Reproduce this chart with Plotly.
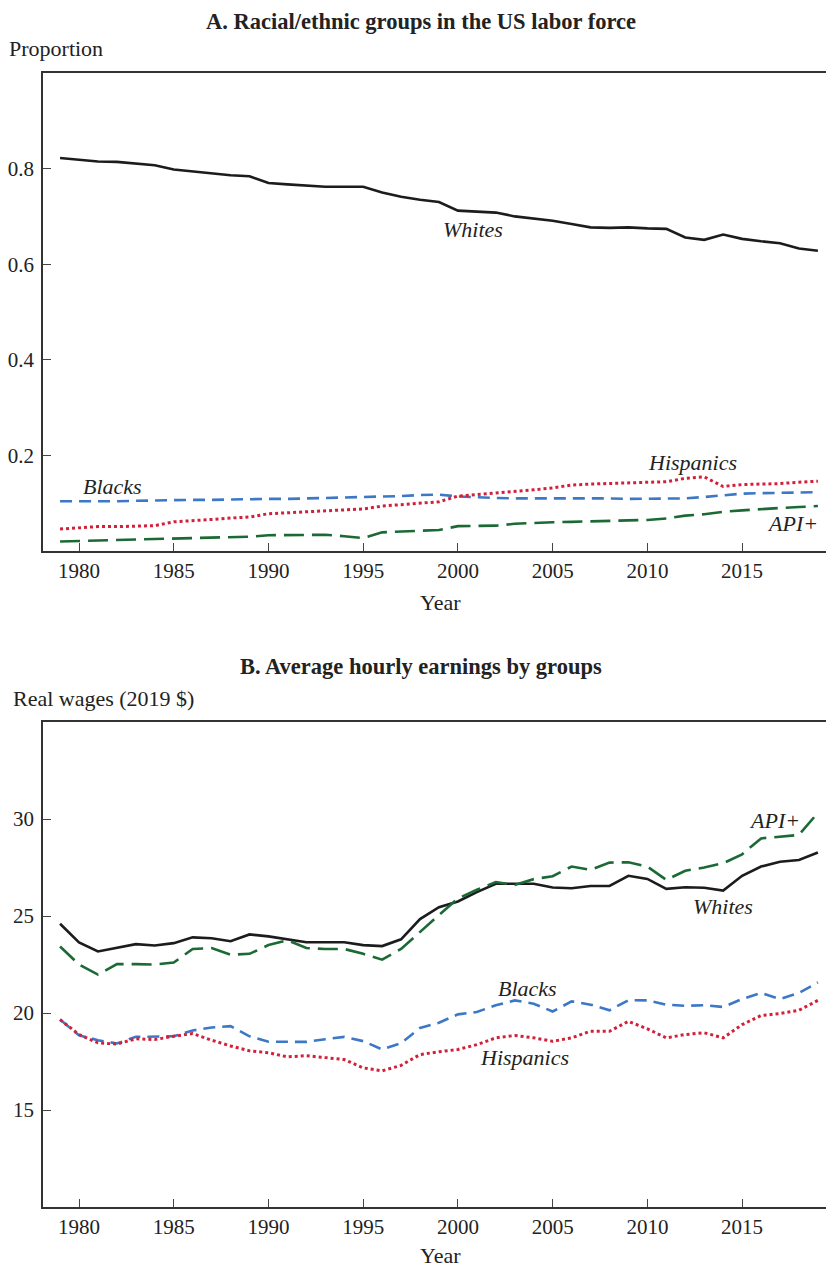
import plotly.graph_objects as go

years = list(range(1979, 2020))

# Panel A: share of labor force
share_whites = [0.822, 0.818, 0.815, 0.814, 0.811, 0.807, 0.798, 0.794, 0.789, 0.786,
                0.784, 0.770, 0.767, 0.764, 0.762, 0.762, 0.762, 0.750, 0.741, 0.735,
                0.730, 0.712, 0.710, 0.708, 0.700, 0.696, 0.691, 0.684, 0.677, 0.676,
                0.677, 0.675, 0.674, 0.656, 0.651, 0.662, 0.653, 0.648, 0.644, 0.633, 0.628]
share_blacks = [0.104, 0.104, 0.103, 0.104, 0.105, 0.106, 0.106, 0.107, 0.107, 0.108,
                0.108, 0.109, 0.109, 0.110, 0.110, 0.111, 0.112, 0.113, 0.115, 0.117,
                0.118, 0.114, 0.112, 0.111, 0.110, 0.110, 0.110, 0.110, 0.111, 0.110,
                0.109, 0.109, 0.109, 0.110, 0.113, 0.117, 0.120, 0.121, 0.122, 0.123, 0.123]
share_hispanics = [0.046, 0.049, 0.051, 0.051, 0.052, 0.053, 0.061, 0.063, 0.066, 0.069,
                   0.071, 0.078, 0.080, 0.082, 0.084, 0.086, 0.088, 0.094, 0.097, 0.101,
                   0.103, 0.115, 0.118, 0.122, 0.125, 0.128, 0.132, 0.138, 0.140, 0.141,
                   0.142, 0.143, 0.145, 0.152, 0.155, 0.135, 0.139, 0.140, 0.141, 0.144, 0.146]
share_api = [0.020, 0.021, 0.022, 0.023, 0.024, 0.024, 0.025, 0.027, 0.028, 0.029,
             0.030, 0.033, 0.033, 0.034, 0.034, 0.031, 0.027, 0.039, 0.041, 0.043,
             0.044, 0.052, 0.052, 0.053, 0.057, 0.059, 0.060, 0.061, 0.062, 0.064,
             0.064, 0.065, 0.068, 0.074, 0.077, 0.082, 0.085, 0.088, 0.090, 0.092, 0.094]

# Panel B: real hourly wages (2019 $)
wage_whites = [24.60, 23.64, 23.17, 23.35, 23.55, 23.48, 23.60, 23.90, 23.85, 23.70,
               24.05, 23.95, 23.80, 23.65, 23.65, 23.65, 23.50, 23.45, 23.80, 24.84,
               25.45, 25.75, 26.23, 26.66, 26.66, 26.66, 26.47, 26.43, 26.55, 26.55,
               27.07, 26.91, 26.40, 26.48, 26.46, 26.31, 27.07, 27.55, 27.80, 27.89, 28.27]
wage_api = [23.43, 22.50, 21.98, 22.52, 22.52, 22.50, 22.60, 23.30, 23.35, 23.00,
            23.05, 23.50, 23.75, 23.35, 23.30, 23.30, 23.05, 22.75, 23.30, 24.20,
            25.05, 25.90, 26.35, 26.75, 26.60, 26.90, 27.05, 27.55, 27.38, 27.75,
            27.77, 27.55, 26.86, 27.33, 27.50, 27.72, 28.18, 29.00, 29.10, 29.18, 30.32]
wage_blacks = [19.66, 18.85, 18.60, 18.43, 18.77, 18.77, 18.80, 19.10, 19.25, 19.32,
               18.80, 18.52, 18.51, 18.51, 18.65, 18.77, 18.55, 18.12, 18.45, 19.23,
               19.50, 19.93, 20.05, 20.40, 20.65, 20.48, 20.08, 20.60, 20.43, 20.14,
               20.66, 20.65, 20.43, 20.37, 20.40, 20.31, 20.72, 21.03, 20.72, 21.03, 21.58]
wage_hispanics = [19.66, 18.89, 18.46, 18.40, 18.67, 18.63, 18.80, 18.94, 18.60, 18.30,
                  18.05, 17.95, 17.74, 17.80, 17.70, 17.60, 17.17, 17.02, 17.30, 17.86,
                  18.00, 18.12, 18.37, 18.72, 18.84, 18.72, 18.54, 18.72, 19.06, 19.06,
                  19.57, 19.18, 18.72, 18.89, 18.98, 18.72, 19.40, 19.87, 19.97, 20.14, 20.65]

x_ticks = [1980, 1985, 1990, 1995, 2000, 2005, 2010, 2015]
yA_ticks = [0.2, 0.4, 0.6, 0.8]
yB_ticks = [15, 20, 25, 30]

# page offset caused by the default body margin of the html page
OX, OY = 8, 8
PAGE_W, PAGE_H = 834, 1269
W, H = PAGE_W - OX, PAGE_H - OY
ML, MR = 43 - OX, 0
FONT = "Liberation Serif"
C_WHITE = "#1c1c1c"
C_BLACK = "#3d78c6"
C_HISP = "#d3203a"
C_API = "#1b6a35"

def py(ypage):
    return (H - (ypage - OY)) / H

def px(xpage):
    return (xpage - OX - ML) / (W - ML - MR)

fig = go.Figure()

def add_series(x, y, color, dash, xa, ya, width=2.6):
    fig.add_trace(go.Scatter(x=x, y=y, mode="lines", xaxis=xa, yaxis=ya,
                             line=dict(color=color, width=width, dash=dash),
                             showlegend=False, hoverinfo="x+y"))

add_series(years, share_whites, C_WHITE, "solid", "x", "y")
add_series(years, share_blacks, C_BLACK, "12px,7px", "x", "y")
add_series(years, share_hispanics, C_HISP, "3px,3px", "x", "y", 3)
add_series(years, share_api, C_API, "20px,8px", "x", "y")

add_series(years, wage_whites, C_WHITE, "solid", "x2", "y2")
add_series(years, wage_blacks, C_BLACK, "12px,7px", "x2", "y2")
add_series(years, wage_hispanics, C_HISP, "3px,3px", "x2", "y2", 3)
add_series(years, wage_api, C_API, "20px,8px", "x2", "y2")

axis_common = dict(showline=True, linecolor="#333333", linewidth=1.6,
                   ticks="inside", ticklen=8, tickwidth=1.4, tickcolor="#444444",
                   showgrid=False, zeroline=False,
                   tickfont=dict(family=FONT, size=21, color="#222222"))

xcommon = dict(axis_common, range=[1978.1, 2019.85], tickvals=x_ticks, mirror=True)
ycommon = dict(axis_common, ticklabelstandoff=3)

fig.update_layout(
    width=W, height=H,
    margin=dict(l=ML, r=MR, t=0, b=0),
    paper_bgcolor="white", plot_bgcolor="white",
    xaxis=dict(xcommon, anchor="y", domain=[0, 1]),
    yaxis=dict(ycommon, range=[0, 1.0], tickvals=yA_ticks,
               ticktext=["0.2", "0.4", "0.6", "0.8"], anchor="x",
               domain=[py(551), py(73)]),
    xaxis2=dict(xcommon, anchor="y2", domain=[0, 1]),
    yaxis2=dict(ycommon, range=[10, 35], tickvals=yB_ticks, anchor="x2",
                domain=[py(1207), py(722)]),
)

def ann(text, xpage, ypage, size=22, italic=False, bold=False, xanchor="center",
        yanchor="middle"):
    t = text
    if bold:
        t = "<b>" + t + "</b>"
    if italic:
        t = "<i>" + t + "</i>"
    fig.add_annotation(text=t, x=px(xpage), y=py(ypage), xref="paper", yref="paper",
                       xanchor=xanchor, yanchor=yanchor, showarrow=False, borderpad=0,
                       font=dict(family=FONT, size=size, color="#222222"))

# Titles
ann("A. Racial/ethnic groups in the US labor force", 421, 8, size=22.5, bold=True,
    yanchor="top")
ann("B. Average hourly earnings by groups", 421, 667, size=22.5, bold=True)
ann("Proportion", 8, 48, size=22, xanchor="left")
ann("Real wages (2019 $)", 12, 698, size=22, xanchor="left")
ann("Year", 440, 602, size=22)
ann("Year", 440, 1255, size=22)

# Series labels panel A
ann("Whites", 473, 229, size=22, italic=True)
ann("Blacks", 112, 486, size=22, italic=True)
ann("Hispanics", 692, 462, size=22, italic=True)
ann("API+", 792, 523, size=22, italic=True)

# Series labels panel B
ann("API+", 774, 821, size=22, italic=True)
ann("Whites", 723, 906, size=22, italic=True)
ann("Blacks", 527, 988, size=22, italic=True)
ann("Hispanics", 524, 1057, size=22, italic=True)

fig.write_html("out.html")
